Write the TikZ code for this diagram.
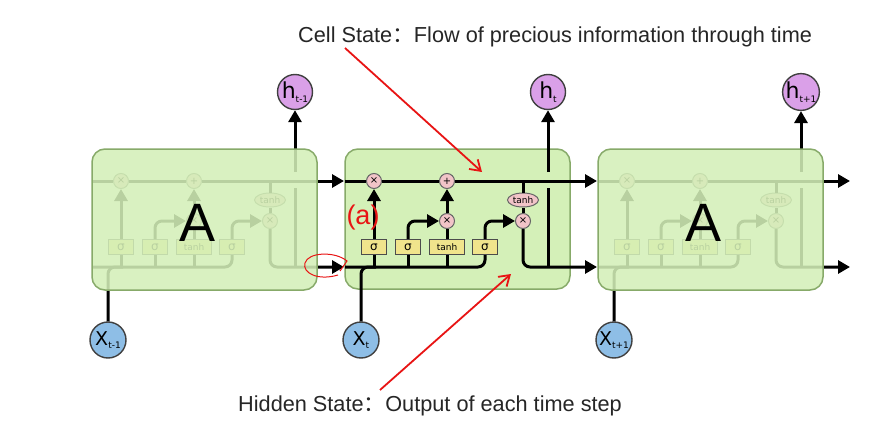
\documentclass[tikz,border=0pt]{standalone}
\usepackage{fontspec}
\setmainfont{Liberation Sans}
\newfontfamily\cjkfont{Noto Sans CJK SC}
\newfontfamily\dvs{DejaVu Sans}
\usetikzlibrary{arrows.meta,shapes.geometric}
\definecolor{boxfill}{RGB}{212,240,184}
\definecolor{boxedge}{RGB}{135,170,105}
\definecolor{gatefill}{RGB}{240,228,140}
\definecolor{opfill}{RGB}{242,196,200}
\definecolor{hfill}{RGB}{218,160,232}
\definecolor{xfill}{RGB}{142,190,230}
\definecolor{annot}{RGB}{232,20,20}
\tikzset{
  flow/.style={line width=3pt, draw=black},
  arr/.style={flow, -{Triangle[length=12pt,width=13pt]}},
  cellbox/.style={draw=boxedge, line width=1.5pt, fill=boxfill, rounded corners=13pt},
  gate/.style={draw=black!70, line width=1pt, fill=gatefill, minimum width=25pt, minimum height=15pt, inner sep=0pt, font=\dvs\fontsize{12}{12}\selectfont},
  wgate/.style={gate, minimum width=35pt, font=\dvs\fontsize{9}{9}\selectfont},
  op/.style={circle, draw=black!60, line width=1pt, fill=opfill, minimum size=15pt, inner sep=0pt, font=\dvs\fontsize{10}{10}\selectfont},
  tanhop/.style={ellipse, draw=black!60, line width=1pt, fill=opfill, minimum width=31pt, minimum height=14pt, inner sep=0pt, font=\dvs\fontsize{9}{9}\selectfont},
  hnode/.style={circle, draw=black!75, line width=1.4pt, fill=hfill, minimum size=35pt, inner sep=0pt, font=\dvs\fontsize{22}{22}\selectfont},
  xnode/.style={circle, draw=black!75, line width=1.4pt, fill=xfill, minimum size=36pt, inner sep=0pt, font=\dvs\fontsize{19}{19}\selectfont},
  label/.style={font=\fontsize{21.7}{26}\selectfont, text=black!85, inner sep=0pt},
  red/.style={draw=annot, line width=1.8pt},
  redarr/.style={red, -{Straight Barb[length=10pt,width=13pt,line width=1.8pt]}},
}
% #1 prefix, internals of one cell relative to box left edge 345
\newcommand{\cellinside}[1]{%
  \node[gate] (#1g1) at (374,247) {σ};
  \node[gate] (#1g2) at (408,247) {σ};
  \node[wgate] (#1g3) at (447,247) {tanh};
  \node[gate] (#1g4) at (485,247) {σ};
  \node[op] (#1m1) at (374,181) {×};
  \node[op] (#1p1) at (447,181) {+};
  \node[op] (#1m2) at (447,221) {×};
  \node[tanhop] (#1th) at (523,200) {tanh};
  \node[op] (#1m3) at (523,221) {×};
  \coordinate (#1cin) at (345,181);
  \coordinate (#1cout) at (597,181);
  \coordinate (#1hin) at (345,267);
  \coordinate (#1hout) at (597,267);
  \coordinate (#1hb) at (548,267);
  \coordinate (#1bra) at (523,181);
  \coordinate (#1gapb) at (548,188);
  \coordinate (#1gapt) at (548,172);
  % cell line
  \draw[flow] (#1cin) -- (#1m1.west);
  \draw[flow] (#1m1.east) -- (#1p1.west);
  \draw[arr] (#1p1.east) -- (#1cout);
  % hidden bus
  \draw[flow, rounded corners=7pt] (#1hin) -- (485,267) -- (#1g4.south);
  \draw[flow] (#1g1.south) -- (374,267);
  \draw[flow] (#1g2.south) -- (408,267);
  \draw[flow] (#1g3.south) -- (447,267);
  % gates to ops
  \draw[arr] (#1g1.north) -- (#1m1.south);
  \draw[arr, rounded corners=7pt] (#1g2.north) |- (#1m2.west);
  \draw[flow] (#1g3.north) -- (#1m2.south);
  \draw[arr] (#1m2.north) -- (#1p1.south);
  \draw[arr, rounded corners=7pt] (#1g4.north) |- (#1m3.west);
  % output path
  \draw[flow] (#1bra) -- (#1th.north);
  \draw[flow] (#1th.south) -- (#1m3.north);
  \draw[arr, rounded corners=7pt] (#1m3.south) |- (#1hout);
  \draw[flow] (#1hb) -- (#1gapb);
}
\begin{document}
\begin{tikzpicture}[x=1pt,y=-1pt]
\useasboundingbox[fill=white] (0,0) rectangle (879,428);

% ---------- cell 1 (faded) ----------
\begin{scope}[shift={(-253,0)}]
  \cellinside{a}
  \node[xnode] (xa) at (361,340) {X\raisebox{-0.25ex}{\fontsize{9}{9}\selectfont t-1}};
  \node[hnode] (ha) at (548,92) {h\raisebox{-0.3ex}{\fontsize{9}{9}\selectfont t-1}};
  \draw[arr] (agapt) -- (ha.south);
  \draw[flow, rounded corners=7pt] (xa.north) |- (376,267);
  \filldraw[cellbox, fill opacity=0.87] (345,149) rectangle (570,290);
  \node[font=\fontsize{54}{54}\selectfont] (Aa) at (451,223) {A};
\end{scope}

% ---------- cell 3 (faded) ----------
\begin{scope}[shift={(253,0)}]
  \cellinside{c}
  \node[xnode] (xc) at (361,340) {X\raisebox{-0.25ex}{\fontsize{9}{9}\selectfont t+1}};
  \node[hnode] (hc) at (548,92) {h\raisebox{-0.3ex}{\fontsize{9}{9}\selectfont t+1}};
  \draw[arr] (cgapt) -- (hc.south);
  \draw[flow, rounded corners=7pt] (xc.north) |- (376,267);
  \filldraw[cellbox, fill opacity=0.87] (345,149) rectangle (570,290);
  \node[font=\fontsize{54}{54}\selectfont] (Ac) at (451,223) {A};
\end{scope}

% ---------- cell 2 (detailed) ----------
\filldraw[cellbox] (345,149) rectangle (570,289);
\cellinside{b}
\node[xnode] (xb) at (361,340) {X\raisebox{-0.25ex}{\fontsize{9}{9}\selectfont t}};
\node[hnode] (hb) at (548,92) {h\raisebox{-0.3ex}{\fontsize{9}{9}\selectfont t}};
\draw[arr] (bgapt) -- (hb.south);
\draw[flow, rounded corners=7pt] (xb.north) |- (376,267);

% ---------- annotations ----------
\node[label, anchor=west] (lcell) at (298,37) {Cell State{\cjkfont ：}Flow of precious information through time};
\node[label, anchor=west] (lhid) at (238,406) {Hidden State{\cjkfont ：}Output of each time step};
\coordinate (ca0) at (345,48);
\coordinate (ca1) at (482,172);
\draw[redarr] (ca0) -- (ca1);
\coordinate (ha0) at (380,390);
\coordinate (ha1) at (511,274);
\draw[redarr] (ha0) -- (ha1);
\node[text=annot, font=\fontsize{27}{27}\selectfont, inner sep=0pt] (alab) at (363,218) {(a)};
\draw[red, line width=1pt] (338,275) .. controls (318,281) and (302,273) .. (305,263)
  .. controls (308,252) and (335,251) .. (347,261) -- (340,271);
\end{tikzpicture}
\end{document}
